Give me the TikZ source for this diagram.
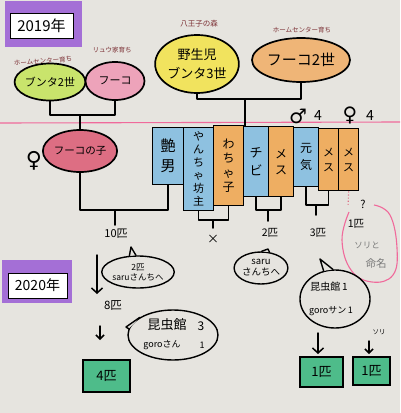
\documentclass[tikz,border=0pt]{standalone}
\usepackage{fontspec}
\setmainfont{Noto Sans CJK JP}
\newfontfamily\symfont{DejaVu Sans}
\usetikzlibrary{shapes.geometric,arrows.meta}
\definecolor{paper}{HTML}{E6E4DF}
\definecolor{limeE}{HTML}{C9E46C}
\definecolor{pinkE}{HTML}{EDA3BA}
\definecolor{yellowE}{HTML}{F1E35E}
\definecolor{orangeE}{HTML}{EFB577}
\definecolor{childE}{HTML}{DD6E83}
\definecolor{blueC}{HTML}{8EC1E0}
\definecolor{orangeC}{HTML}{EEAE62}
\definecolor{purp}{HTML}{A46FD6}
\definecolor{greenB}{HTML}{4EBC8A}
\definecolor{pinkline}{HTML}{F06A9B}
\definecolor{labbrown}{HTML}{7B2E33}
\definecolor{greytxt}{HTML}{7A7A7A}
\begin{document}
\begin{tikzpicture}[x=1pt,y=-1pt,
  ln/.style={line width=1.5pt, line cap=round, line join=round},
  oval/.style={ellipse, draw, line width=1.7pt, inner sep=0pt, align=center},
  col/.style={draw, line width=1.4pt, anchor=north west, inner sep=0pt, align=center},
  lab/.style={text=labbrown, font=\fontsize{6.5}{7}\selectfont, inner sep=0pt},
  txt/.style={inner sep=0pt, align=center},
  gbox/.style={draw, line width=1.6pt, fill=greenB, inner sep=0pt, font=\fontsize{13}{14}\selectfont},
  bub/.style={ellipse, draw, line width=1.4pt, inner sep=0pt, align=center},
  arr/.style={ln, -{Straight Barb[length=5pt,width=11pt]}}
]
\fill[paper] (0,0) rectangle (400,413);
\useasboundingbox (0,0) rectangle (400,413);

% year boxes
\fill[purp] (5,1) rectangle (82,47);
\node[draw, line width=0.8pt, fill=white, inner sep=0pt, minimum width=63, minimum height=25,
  font=\fontsize{15}{16}\selectfont] (y2019) at (41.5,25.5) {2019年};
\fill[purp] (2,260) rectangle (72,303);
\node[draw, line width=0.8pt, fill=white, inner sep=0pt, minimum width=59, minimum height=25,
  font=\fontsize{14}{15}\selectfont] (y2020) at (37.5,285.5) {2020年};

% parents
\node[oval, fill=limeE, minimum width=66, minimum height=37, font=\fontsize{11}{12}\selectfont] (bunta2) at (50,82) {ブンタ2世};
\node[lab, rotate=4] (lb2) at (43,61) {ホームセンター育ち};
\node[oval, fill=pinkE, minimum width=59, minimum height=38, font=\fontsize{11}{12}\selectfont] (fuko) at (115,81) {フーコ};
\node[lab] (lfu) at (112,50) {リュウ家育ち};
\node[oval, fill=yellowE, minimum width=80, minimum height=58, font=\fontsize{13}{19}\selectfont] (bunta3) at (197,64) {野生児\\ブンタ3世};
\node[lab, font=\fontsize{7.5}{8}\selectfont] (lb3) at (199,24) {八王子の森};
\node[oval, fill=orangeE, minimum width=98, minimum height=44, font=\fontsize{15}{16}\selectfont] (fuko2) at (301,60) {フーコ2世};
\node[lab] (lf2) at (302,30) {ホームセンター育ち};

% top connectors
\coordinate (jL) at (80,115);
\draw[ln] (bunta2.south) |- (jL) -| (fuko.south);
\coordinate (jR) at (245,99);
\draw[ln] (bunta3.south) |- (jR) -| (fuko2.south);

% pink line
\draw[pinkline, line width=1.1pt] (0,123) -- (400,122);

% first child
\node[oval, fill=childE, minimum width=66, minimum height=42, font=\fontsize{10.5}{12}\selectfont] (child) at (80,151) {フーコの子};
\draw[ln] (jL) -- (child.north);
\node[txt, font=\symfont\fontsize{22}{24}\selectfont] (fem1) at (34,161) {♀};

% columns
\node[col, fill=blueC, minimum width=31, minimum height=57, font=\fontsize{15}{20}\selectfont] (c1) at (152,127) {艶\\男};
\node[col, fill=blueC, minimum width=30, minimum height=83, font=\fontsize{11}{13}\selectfont] (c2) at (183,127) {や\\ん\\ち\\ゃ\\坊\\主};
\node[col, fill=orangeC, minimum width=30, minimum height=80, font=\fontsize{12}{14.5}\selectfont] (c3) at (213,125) {わ\\ち\\ゃ\\子};
\node[col, fill=blueC, minimum width=25, minimum height=70, font=\fontsize{13}{18}\selectfont] (c4) at (243,126) {チ\\ビ};
\node[col, fill=orangeC, minimum width=25, minimum height=70, font=\fontsize{12}{16}\selectfont] (c5) at (268,126) {メ\\ス};
\node[col, fill=blueC, minimum width=25, minimum height=59, font=\fontsize{12}{17}\selectfont] (c6) at (293,127) {元\\気};
\node[col, fill=orangeC, minimum width=20, minimum height=62, font=\fontsize{11}{15}\selectfont] (c7) at (318,128) {メ\\ス};
\node[col, fill=orangeC, minimum width=20, minimum height=62, font=\fontsize{11}{15}\selectfont] (c8) at (338,128) {メ\\ス};
\draw[ln] (jR) -- (jR |- c4.north);

% sex counts
\node[txt, font=\symfont\fontsize{20}{22}\selectfont] (male) at (298,116) {♂};
\node[txt, font=\fontsize{14}{15}\selectfont] (m4) at (318,116) {4};
\node[txt, font=\symfont\fontsize{20}{22}\selectfont] (fem2) at (350,115) {♀};
\node[txt, font=\fontsize{14}{15}\selectfont] (f4) at (370,116) {4};

% lower connectors
\node[txt, font=\fontsize{11}{12}\selectfont] (n10) at (116,234) {10匹};
\coordinate (jA) at (115,210);
\coordinate (dA) at (115,225);
\draw[ln] (child.south) |- (jA) -| (c1.south);
\draw[ln] (jA) -- (dA);

\node[txt, font=\fontsize{12}{12}\selectfont] (cross) at (213,239) {×};
\coordinate (jB) at (213,220);
\coordinate (dB) at (213,228);
\draw[ln] (c2.south) |- (jB) -| (c3.south);
\draw[ln] (jB) -- (dB);

\node[txt, font=\fontsize{10.5}{11}\selectfont] (n2) at (270,233) {2匹};
\coordinate (jC) at (268,210);
\coordinate (dC) at (268,221);
\draw[ln] (c4.south) |- (jC) -| (c5.south);
\draw[ln] (jC) -- (dC);

\node[txt, font=\fontsize{10.5}{11}\selectfont] (n3) at (318,233) {3匹};
\coordinate (jD) at (316,205);
\coordinate (dD) at (316,215);
\draw[ln] (c6.south) |- (jD) -| (c7.south);
\draw[ln] (jD) -- (dD);

\coordinate (dq) at (348,206);
\draw[childE, line width=1.1pt, dotted] (c8.south) -- (dq);
\node[txt, font=\fontsize{11}{12}\selectfont] (qm) at (363,204) {?};
\node[txt, font=\fontsize{10.5}{11}\selectfont] (n1) at (356,224) {1匹};
\node[txt, text=greytxt, font=\fontsize{8.5}{9}\selectfont] (sori1) at (367,245) {ソリと};
\node[txt, text=greytxt, font=\fontsize{10.5}{11}\selectfont] (sori2) at (376,264) {命名};
\draw[pinkline, line width=1.1pt] plot[smooth, tension=0.7] coordinates {(349,212) (342,240) (351,270) (372,282) (393,275) (397,248) (390,215) (374,205)};

% bubbles
\node[bub, minimum width=62, minimum height=32, font=\fontsize{8.5}{10}\selectfont] (bub1) at (138,272) {2匹\\saruさんちへ};
\coordinate (t1) at (131,247);
\fill[paper] (bub1.118) -- (t1) -- (bub1.97) -- cycle;
\draw[ln, line width=1.4pt] (bub1.118) -- (t1) -- (bub1.97);

\node[bub, minimum width=52, minimum height=32, font=\fontsize{9.5}{11}\selectfont] (bub2) at (261,268) {saru\\さんちへ};
\coordinate (t2) at (268,249);
\fill[paper] (bub2.88) -- (t2) -- (bub2.62) -- cycle;
\draw[ln, line width=1.4pt] (bub2.88) -- (t2) -- (bub2.62);

\node[bub, minimum width=70, minimum height=58] (bub3) at (335,299) {};
\coordinate (t3) at (320,259);
\fill[paper] (bub3.112) -- (t3) -- (bub3.94) -- cycle;
\draw[ln, line width=1.4pt] (bub3.112) -- (t3) -- (bub3.94);
\node[txt, font=\fontsize{10}{11}\selectfont] (k1) at (329,287) {昆虫館\,1};
\node[txt, font=\fontsize{9}{10}\selectfont] (g1) at (331,311) {goroサン\,1};

\node[bub, minimum width=90, minimum height=50] (bub4) at (173,335) {};
\coordinate (t4) at (126,327);
\fill[paper] (bub4.172) -- (t4) -- (bub4.152) -- cycle;
\draw[ln, line width=1.4pt] (bub4.172) -- (t4) -- (bub4.152);
\node[txt, font=\fontsize{13}{14}\selectfont] (k3) at (167,325) {昆虫館};
\node[txt, font=\fontsize{12}{13}\selectfont] (k3n) at (201,326) {3};
\node[txt, font=\fontsize{9}{10}\selectfont] (g3) at (162,345) {goroさん};
\node[txt, font=\fontsize{9}{10}\selectfont] (g3n) at (202,345) {1};

\node[txt, font=\fontsize{11.5}{12}\selectfont] (n8) at (113,306) {8匹};

% arrows
\coordinate (a1s) at (97,255); \coordinate (a1e) at (97,294);
\draw[arr] (a1s) -- (a1e);
\coordinate (a2s) at (100,326); \coordinate (a2e) at (100,340);
\draw[arr, -{Straight Barb[length=4pt,width=8pt]}] (a2s) -- (a2e);
\coordinate (a3s) at (318,333); \coordinate (a3e) at (318,354);
\draw[arr] (a3s) -- (a3e);
\coordinate (a4s) at (369,341); \coordinate (a4e) at (369,354);
\draw[arr, -{Straight Barb[length=4pt,width=8pt]}] (a4s) -- (a4e);
\node[txt, font=\fontsize{6.5}{7}\selectfont] (soril) at (379,332) {ソリ};

% result boxes
\node[gbox, minimum width=47, minimum height=32] (g4) at (106.5,376) {4匹};
\node[gbox, minimum width=43, minimum height=30] (g1a) at (321.5,372) {1匹};
\node[gbox, minimum width=37, minimum height=28] (g1b) at (371.5,371) {1匹};
\end{tikzpicture}
\end{document}
